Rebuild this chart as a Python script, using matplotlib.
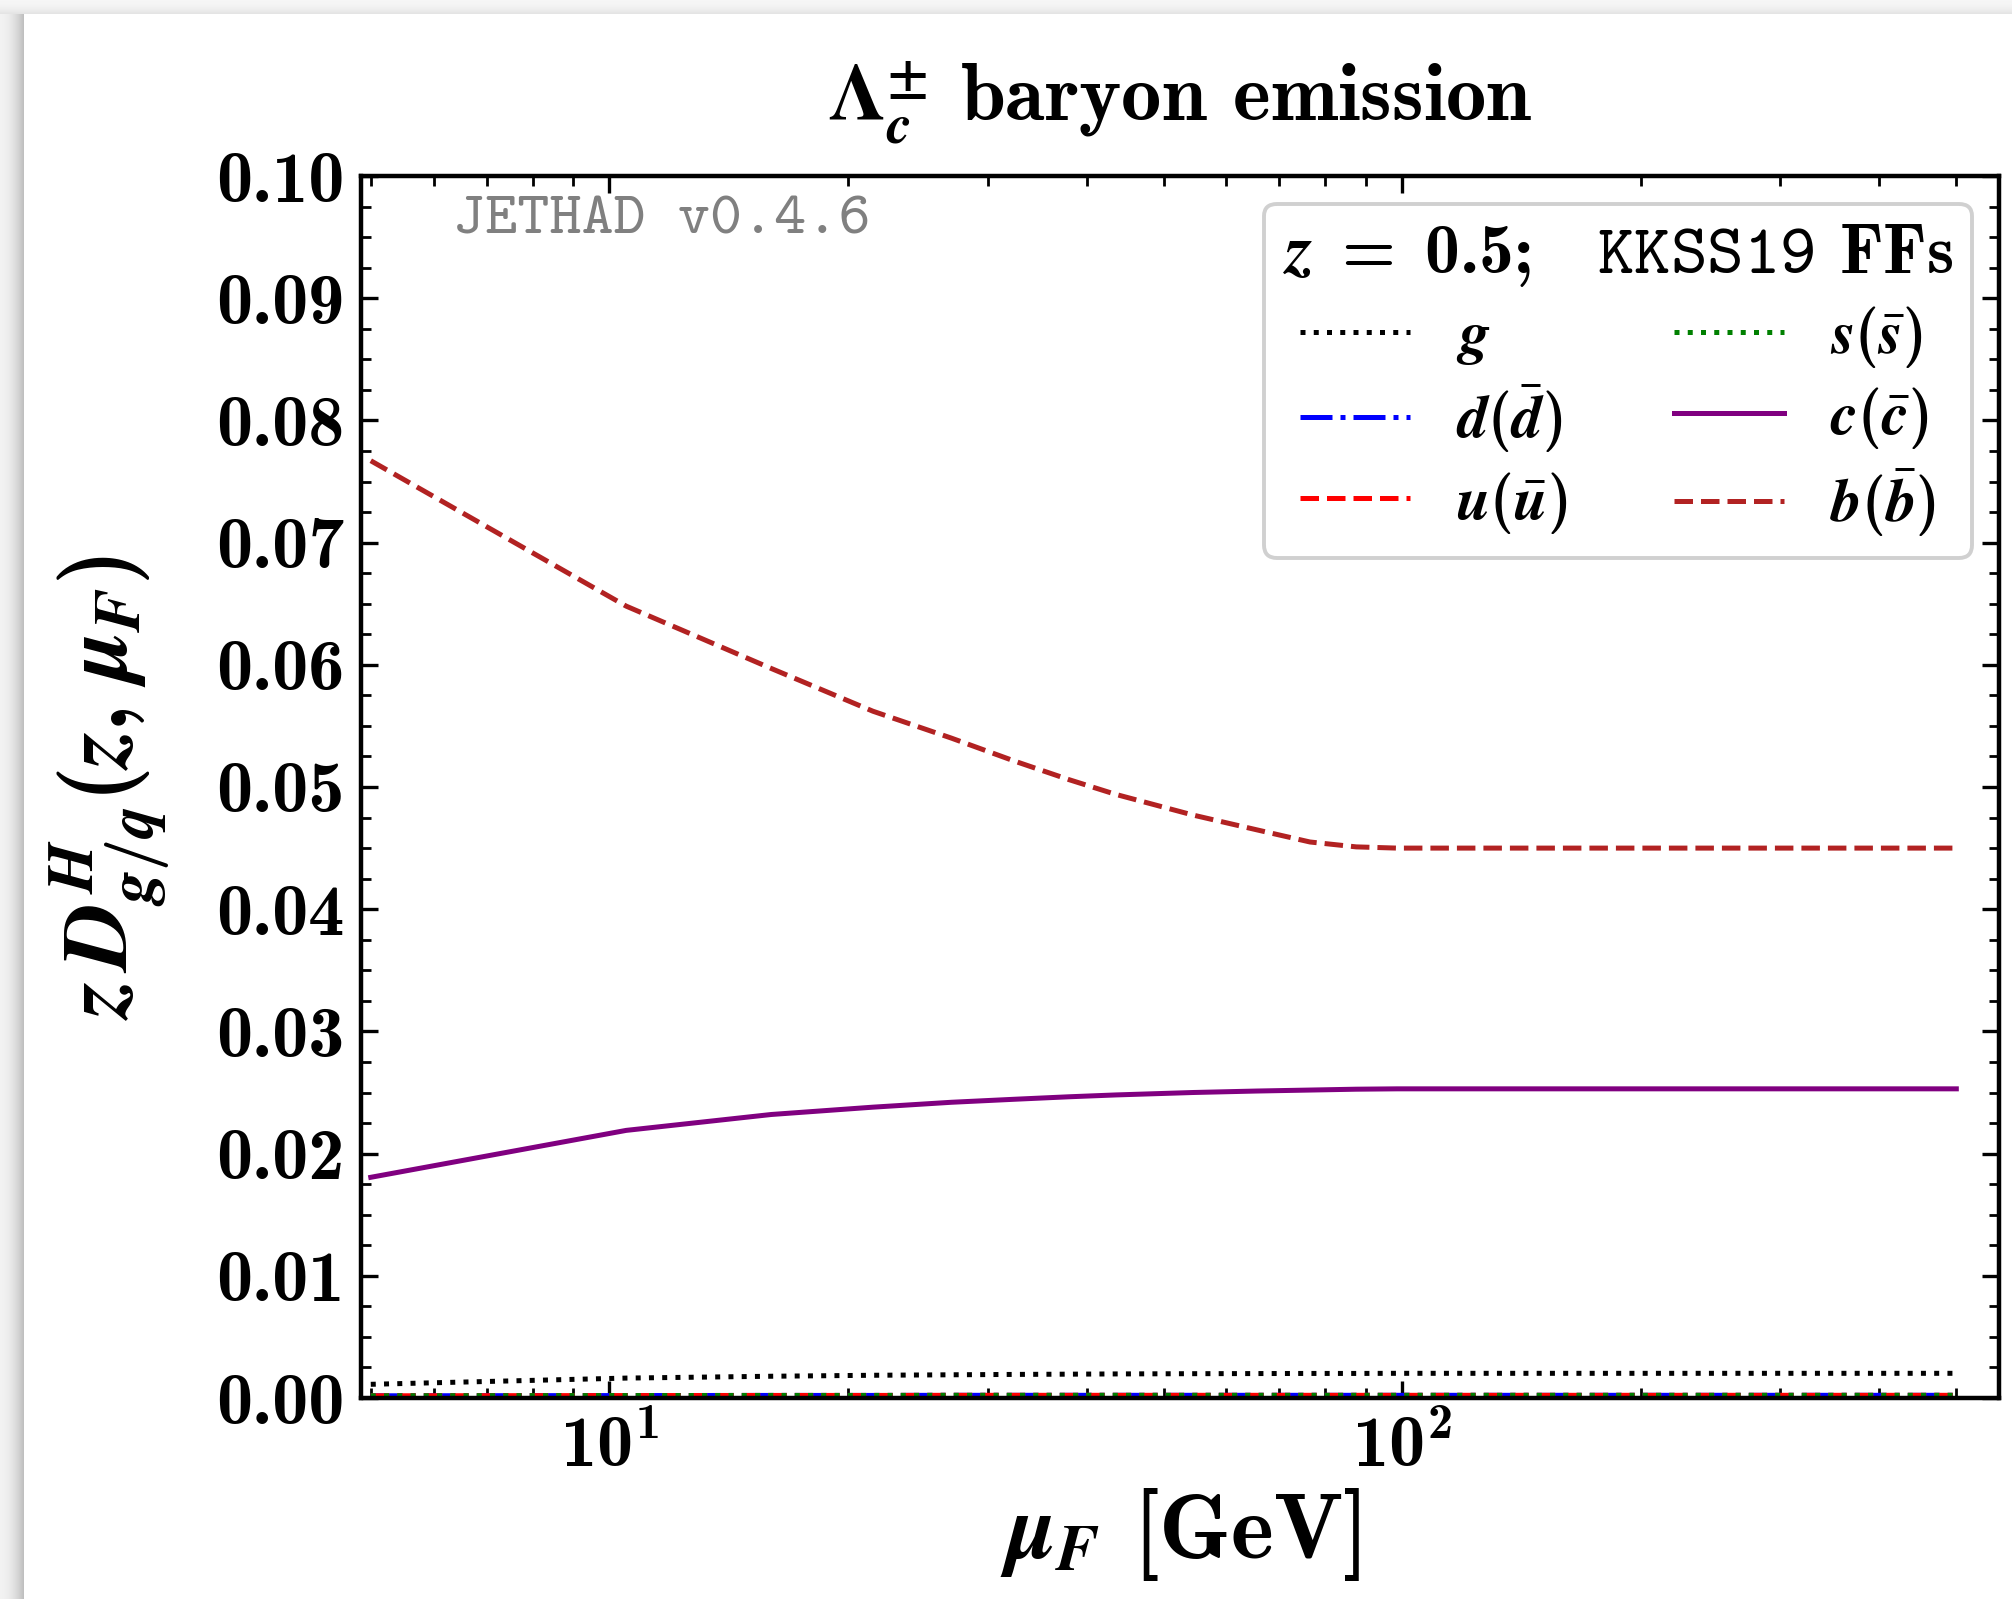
import numpy as np
import matplotlib
matplotlib.use("Agg")
import matplotlib.pyplot as plt
from matplotlib.ticker import MultipleLocator, FuncFormatter, NullFormatter, LogLocator

# ---------------- data ----------------
mu_F = [5.0, 10.5, 16.0, 21.5, 27.0, 32.5, 38.0, 43.5, 54.5, 65.5, 76.5, 87.5, 98.5, 500.0]
D_g = [0.00112, 0.00163, 0.00178, 0.00186, 0.00190, 0.00193, 0.00195, 0.00197,
       0.00199, 0.00200, 0.00201, 0.00201, 0.00202, 0.00202]
D_d = [0.00018, 0.00020, 0.00021, 0.00021, 0.00022, 0.00022, 0.00022, 0.00022,
       0.00022, 0.00022, 0.00022, 0.00022, 0.00022, 0.00022]
D_u = D_d
D_s = D_d
D_c = [0.01806, 0.02190, 0.02320, 0.02380, 0.02420, 0.02445, 0.02465, 0.02480,
       0.02500, 0.02512, 0.02520, 0.02527, 0.02530, 0.02530]
D_b = [0.0767, 0.0648, 0.0597, 0.0562, 0.0540, 0.0521, 0.0506, 0.0494,
       0.0477, 0.0465, 0.0455, 0.0451, 0.0450, 0.0450]

series_labels = [r'$g$', r'$d(\bar{d})$', r'$u(\bar{u})$',
                 r'$s(\bar{s})$', r'$c(\bar{c})$', r'$b(\bar{b})$']
series_colors = ['black', 'blue', 'red', 'green', 'purple', '#b22222']
series_styles = [':', '-.', '--', ':', '-', '--']

# ---------------- style ----------------
plt.rcParams['font.family'] = ['cmb10']
plt.rcParams['mathtext.fontset'] = 'custom'
plt.rcParams['mathtext.rm'] = 'cmb10'
plt.rcParams['mathtext.bf'] = 'cmb10'
plt.rcParams['mathtext.it'] = 'STIXGeneral:italic:bold'
plt.rcParams['mathtext.sf'] = 'STIXGeneral:bold'
plt.rcParams['mathtext.tt'] = 'cmtt10'
plt.rcParams['mathtext.fallback'] = 'stix'
plt.rcParams['axes.unicode_minus'] = False

DPI = 200
W, H = 2012, 1599
fig = plt.figure(figsize=(W / DPI, H / DPI), dpi=DPI)
fig.patch.set_facecolor('white')

# screenshot-like shadow at the left and top edges
xl = np.arange(24) / 23.0
left = 0.95 - 0.20 * xl ** 2
left_img = np.tile(left[None, :, None], (H, 1, 3))
fig.figimage(left_img, xo=0, yo=0, origin='upper', zorder=0)
yt = np.arange(14) / 13.0
top = 0.965 - 0.07 * yt ** 2
top_img = np.tile(top[:, None, None], (1, W, 3))
fig.figimage(top_img, xo=0, yo=H - 14, origin='upper', zorder=0)

ax = fig.add_axes([361 / W, 1 - 1398 / H, (1999 - 361) / W, (1398 - 176) / H])

all_series = [D_g, D_d, D_u, D_s, D_c, D_b]
for vals, lab, col, ls in zip(all_series, series_labels, series_colors, series_styles):
    ax.plot(mu_F, vals, color=col, linestyle=ls, linewidth=1.8, label=lab)

ax.set_xscale('log')
ax.set_xlim(4.86, 566)
ax.set_ylim(0.0, 0.10)

ax.yaxis.set_major_locator(MultipleLocator(0.01))
ax.yaxis.set_minor_locator(MultipleLocator(0.0025))
ax.yaxis.set_major_formatter(FuncFormatter(lambda v, p: '%.2f' % v))
ax.xaxis.set_major_locator(LogLocator(base=10))
ax.xaxis.set_minor_locator(LogLocator(base=10, subs=np.arange(2, 10)))
ax.xaxis.set_major_formatter(FuncFormatter(lambda v, p: r'$\mathbf{10^{%d}}$' % int(round(np.log10(v)))))
ax.xaxis.set_minor_formatter(NullFormatter())

ax.tick_params(which='both', direction='in', top=True, right=True)
ax.tick_params(which='major', length=6, width=1.2, labelsize=26, pad=6)
ax.tick_params(which='minor', length=3.5, width=1.0)
for sp in ax.spines.values():
    sp.set_linewidth(1.6)

ax.set_xlabel(r'$\mu_F$ [GeV]', fontsize=33, labelpad=2)
ax.set_ylabel(r'$z\,D^{H}_{g/q}(z,\,\mu_F)$', fontsize=33, labelpad=16)
ax.set_title(r'$\mathbf{\Lambda}_{c}^{\mathsf{\pm}}$ baryon emission', fontsize=29, pad=20)

ax.text(0.056, 0.983, 'JETHAD v0.4.6', transform=ax.transAxes, family='cmtt10',
        fontsize=22, color='gray', va='top', ha='left')

leg = ax.legend(loc='upper right', ncol=2, fontsize=22,
                title=r'$z\ =\ 0.5;\quad\mathtt{KKSS19}$ FFs', title_fontsize=25,
                handlelength=1.8, handletextpad=0.75, columnspacing=1.75,
                labelspacing=0.25, borderpad=0.3, borderaxespad=0.45, frameon=True,
                fancybox=True, framealpha=1.0, edgecolor='#d0d0d0')
leg.get_frame().set_linewidth(1.4)

fig.savefig('out.png', dpi=DPI, facecolor='white')
